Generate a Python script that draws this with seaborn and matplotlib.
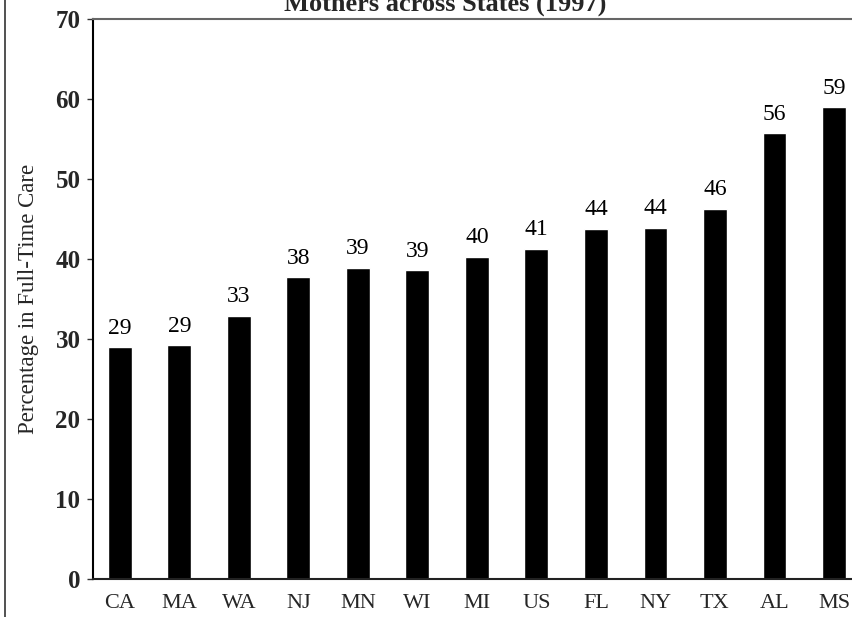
import matplotlib
matplotlib.use("Agg")
import matplotlib.pyplot as plt
import seaborn as sns

# Share of children in full-time care, by state (1997)
states = ["CA", "MA", "WA", "NJ", "MN", "WI", "MI", "US", "FL", "NY", "TX", "AL", "MS"]
pct_full_time = [29.0, 29.2, 32.9, 37.7, 38.9, 38.6, 40.3, 41.3, 43.8, 43.9, 46.3, 55.7, 59.0]
y_ticks = [0, 10, 20, 30, 40, 50, 60, 70]

sns.set_theme(style="white")
plt.rcParams["font.family"] = ["Liberation Serif", "DejaVu Serif"]

fig = plt.figure(figsize=(8.53, 6.17), dpi=100)
ax = fig.add_axes([93 / 853, 38 / 617, 1 - 93 / 853, (579 - 19) / 617])

sns.barplot(x=states, y=pct_full_time, color="black", width=0.4,
            saturation=1, ax=ax)
ax.bar_label(ax.containers[0], fmt="{:.0f}", padding=6,
             fontsize=17, color="black")

ax.set_ylim(0, 70)
ax.set_xlim(-0.45, 12.32)
ax.set_yticks(y_ticks)
ax.set_yticklabels([str(t) for t in y_ticks], fontsize=18, fontweight="bold")
ax.tick_params(axis="y", left=True, length=4, width=1, color="#333333", pad=5)
ax.tick_params(axis="x", bottom=False, length=0, labelsize=16, pad=11)
ax.set_xlabel("")
ax.set_ylabel("Percentage in Full-Time Care", fontsize=16.5, labelpad=12)

for side in ("left", "bottom", "top"):
    ax.spines[side].set_visible(True)
ax.spines["right"].set_visible(False)
ax.spines["left"].set_color("black")
ax.spines["left"].set_linewidth(1.5)
ax.spines["bottom"].set_color("#222222")
ax.spines["bottom"].set_linewidth(1.5)
ax.spines["top"].set_color("#666666")
ax.spines["top"].set_linewidth(1.5)

fig.text(445 / 853, 1 - 11 / 617, "Mothers across States (1997)",
         ha="center", va="baseline", fontsize=19, fontweight="bold")

# page border on the left edge
fig.add_artist(plt.Line2D([5 / 853, 5 / 853], [0, 1], color="#333333",
                          linewidth=1.2, transform=fig.transFigure))

fig.savefig("out.png", dpi=100, facecolor="white")
